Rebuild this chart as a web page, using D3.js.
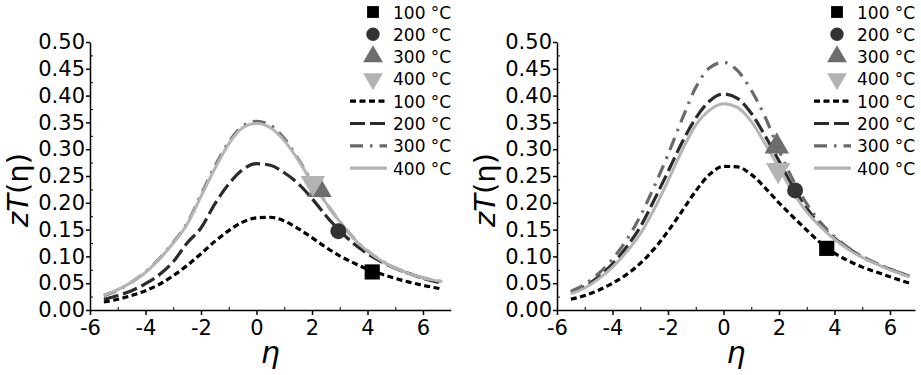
<!DOCTYPE html>
<html lang="en">
<head>
    <meta charset="UTF-8">
    <title>zT(eta)</title>
    <script src="https://cdn.jsdelivr.net/npm/d3@7"></script>
    <style>
        body { margin: 0; background: #fff; }
        svg { display: block; font-family: "DejaVu Sans", sans-serif; }
    </style>
</head>
<body>
<div id="chart"></div>
<script>
    // reduced chemical potential samples
    const eta = [-5.5, -5, -4.5, -4, -3.5, -3, -2.5, -2, -1.5, -1, -0.5, 0, 0.5, 1, 1.5, 2, 2.5, 3, 3.5, 4, 4.5, 5, 5.5, 6, 6.7];
    const temps = ["100 °C", "200 °C", "300 °C", "400 °C"];

    // left panel curves
    const left100 = [.015, .020, .027, .036, .048, .064, .083, .105, .128, .148, .164, .172, .173, .166, .152, .135, .117, .101, .088, .076, .067, .059, .052, .046, .039];
    const left200 = [.020, .027, .036, .049, .066, .090, .125, .153, .198, .235, .262, .273, .270, .256, .236, .208, .176, .148, .124, .105, .090, .078, .068, .059, .050];
    const left300 = [.027, .037, .052, .071, .096, .126, .162, .215, .268, .313, .343, .352, .345, .320, .282, .240, .200, .165, .134, .110, .092, .078, .068, .060, .053];
    const left400 = [.028, .038, .052, .070, .095, .125, .160, .212, .264, .310, .340, .348, .340, .316, .280, .238, .200, .165, .134, .110, .092, .078, .068, .060, .053];
    // measured points [eta, zT]
    const leftPts = [[4.17, .071], [2.95, .147], [2.27, .224], [2.03, .237]];

    // right panel curves
    const right100 = [.020, .027, .037, .050, .066, .087, .114, .147, .184, .222, .253, .268, .267, .253, .228, .200, .174, .149, .125, .106, .092, .080, .071, .062, .050];
    const right200 = [.032, .044, .062, .086, .117, .155, .205, .258, .312, .358, .390, .403, .395, .367, .325, .278, .230, .190, .158, .134, .115, .099, .087, .076, .063];
    const right300 = [.035, .048, .068, .095, .130, .175, .230, .290, .355, .415, .452, .462, .447, .410, .360, .298, .243, .198, .163, .137, .116, .100, .087, .076, .064];
    const right400 = [.030, .041, .058, .080, .108, .142, .188, .241, .297, .345, .373, .385, .378, .352, .310, .265, .220, .183, .155, .132, .113, .098, .086, .075, .062];
    const rightPts = [[3.72, .115], [2.58, .223], [1.92, .305], [1.97, .261]];

    const yTicks = [0, .05, .1, .15, .2, .25, .3, .35, .4, .45, .5];
    const xTicks = [-6, -4, -2, 0, 2, 4, 6];

    // styles per temperature
    const lineColor = ["#000", "#2b2b2b", "#6a6a6a", "#b4b4b4"];
    const lineDash = ["6,3.5", "15,5", "13,7,2.5,7", null];
    const markColor = ["#000", "#333", "#6d6d6d", "#b3b3b3"];

    let draw = () => {
        let svg = d3.select("#chart").append("svg")
            .attr("width", 921)
            .attr("height", 375);

        let panels = [
            { x0: 90, xMax: 7, curves: [left100, left200, left300, left400], pts: leftPts, legX: 350 },
            { x0: 557, xMax: 6.9, curves: [right100, right200, right300, right400], pts: rightPts, legX: 814 }
        ];

        let symbols = [
            d3.symbol().type(d3.symbolSquare),
            d3.symbol().type(d3.symbolCircle),
            d3.symbol().type(d3.symbolTriangle),
            d3.symbol().type(d3.symbolTriangle)
        ];

        panels.forEach(p => {
            let x = d3.scaleLinear().domain([-6, p.xMax]).range([p.x0, p.x0 + (p.xMax + 6) * 27.75]);
            let y = d3.scaleLinear().domain([0, 0.5]).range([310, 42]);
            let g = svg.append("g");

            // minor ticks (inward)
            g.append("g").attr("transform", "translate(0,310)")
                .call(d3.axisBottom(x).tickValues(d3.range(-5, p.xMax, 2)).tickSize(-3).tickFormat(""))
                .call(a => a.select(".domain").remove());
            g.append("g").attr("transform", "translate(" + p.x0 + ",0)")
                .call(d3.axisLeft(y).tickValues(d3.range(0.025, 0.5, 0.05)).tickSize(-3).tickFormat(""))
                .call(a => a.select(".domain").remove());

            let xa = g.append("g").attr("transform", "translate(0,310)")
                .call(d3.axisBottom(x).tickValues(xTicks).tickSizeInner(5).tickSizeOuter(0).tickPadding(5).tickFormat(d => String(d)));
            let ya = g.append("g").attr("transform", "translate(" + p.x0 + ",0)")
                .call(d3.axisLeft(y).tickValues(yTicks).tickSizeInner(4).tickSizeOuter(0).tickPadding(1).tickFormat(d3.format(".2f")));
            [xa, ya].forEach(a => {
                a.attr("font-family", null).attr("font-size", 21);
                a.selectAll("path,line").attr("stroke", "#000").attr("stroke-width", 1.5);
                a.selectAll("text").attr("fill", "#000");
            });

            // curves
            let line = d3.line().x((d, i) => x(eta[i])).y(d => y(d)).curve(d3.curveMonotoneX);
            p.curves.forEach((c, i) => {
                g.append("path").datum(c)
                    .attr("d", line)
                    .attr("fill", "none")
                    .attr("stroke", lineColor[i])
                    .attr("stroke-width", i == 3 ? 3 : 3.2)
                    .attr("stroke-dasharray", lineDash[i]);
            });

            // measured points
            let big = [230, 200, 260, 260];
            p.pts.forEach((d, i) => {
                g.append("path")
                    .attr("d", symbols[i].size(big[i])())
                    .attr("transform", "translate(" + x(d[0]) + "," + y(d[1]) + ")" + (i == 3 ? " rotate(180)" : ""))
                    .attr("fill", markColor[i]);
            });

            // legend
            let leg = g.append("g").attr("font-size", 17);
            let small = [140, 140, 170, 170];
            temps.forEach((t, i) => {
                let cy = 12 + i * 22.3;
                leg.append("path")
                    .attr("d", symbols[i].size(small[i])())
                    .attr("transform", "translate(" + (p.legX + 23) + "," + cy + ")" + (i == 3 ? " rotate(180)" : ""))
                    .attr("fill", markColor[i]);
                leg.append("text").attr("x", p.legX + 43).attr("y", cy + 6.5).text(t);
            });
            temps.forEach((t, i) => {
                let cy = 12 + (i + 4) * 22.3;
                leg.append("line")
                    .attr("x1", p.legX).attr("x2", p.legX + 37)
                    .attr("y1", cy).attr("y2", cy)
                    .attr("stroke", lineColor[i])
                    .attr("stroke-width", 3.2)
                    .attr("stroke-dasharray", lineDash[i]);
                leg.append("text").attr("x", p.legX + 43).attr("y", cy + 6.5).text(t);
            });

            // axis titles
            let yt = g.append("text")
                .attr("transform", "translate(" + (p.x0 - 62) + ",190) rotate(-90)")
                .attr("text-anchor", "middle")
                .attr("font-size", 29);
            yt.append("tspan").attr("font-style", "italic").text("zT");
            yt.append("tspan").text("(η)");

            g.append("text")
                .attr("x", (x.range()[0] + x.range()[1]) / 2)
                .attr("y", 363)
                .attr("text-anchor", "middle")
                .attr("font-style", "italic")
                .attr("font-size", 30)
                .text("η");
        });
    }
    draw();
</script>
</body>
</html>
